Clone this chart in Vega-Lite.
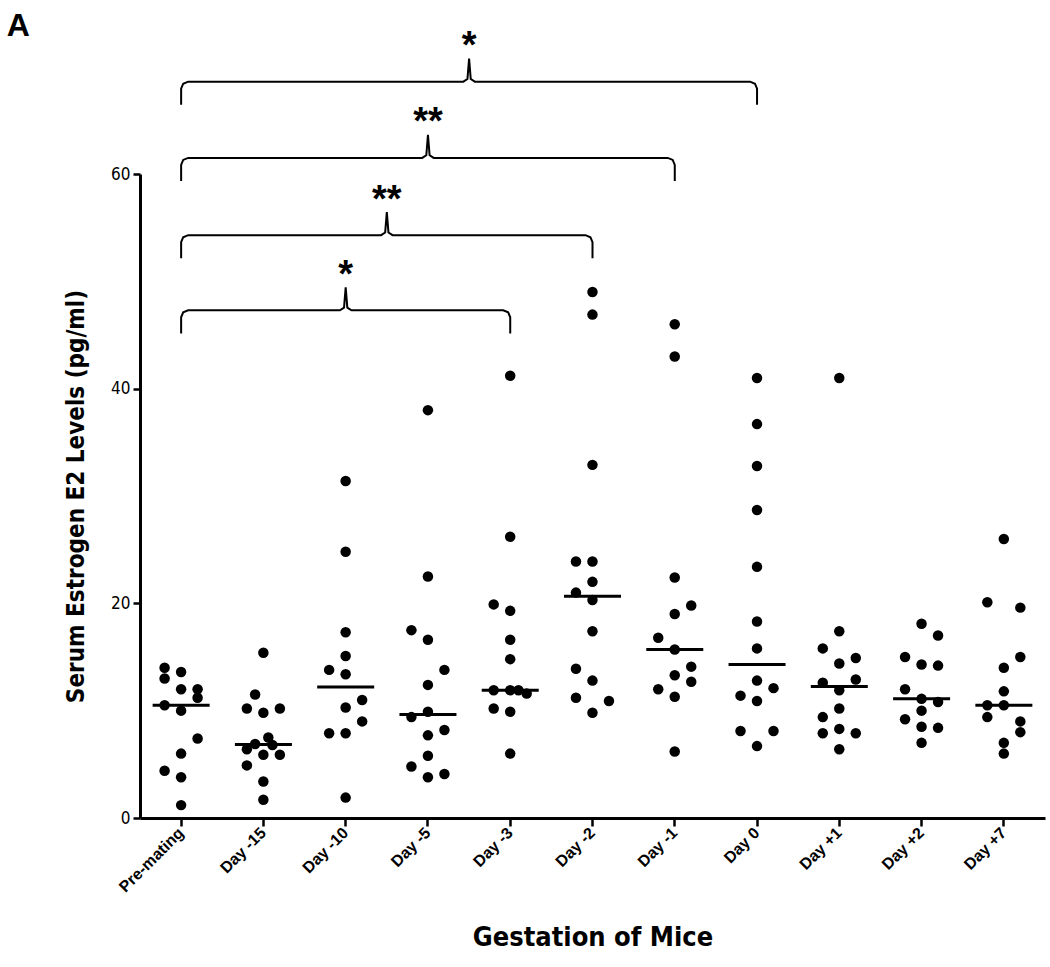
{
  "$schema": "https://vega.github.io/schema/vega-lite/v6.json",
  "width": 905,
  "height": 644,
  "autosize": {"type": "none"},
  "padding": {"left": 140, "top": 174, "right": 5, "bottom": 149},
  "background": "white",
  "config": {
    "view": {"stroke": null},
    "axis": {"domainColor": "black", "tickColor": "black", "labelColor": "black", "titleColor": "black", "grid": false}
  },
  "datasets": {
    "obs": [
      {"g": "Pre-mating", "v": 14.0, "s": -2}, {"g": "Pre-mating", "v": 13.6, "s": 0}, {"g": "Pre-mating", "v": 13.0, "s": -2},
      {"g": "Pre-mating", "v": 12.0, "s": 0}, {"g": "Pre-mating", "v": 12.0, "s": 2}, {"g": "Pre-mating", "v": 11.2, "s": 2},
      {"g": "Pre-mating", "v": 10.5, "s": -2}, {"g": "Pre-mating", "v": 10.0, "s": 0}, {"g": "Pre-mating", "v": 7.4, "s": 2},
      {"g": "Pre-mating", "v": 6.0, "s": 0}, {"g": "Pre-mating", "v": 4.4, "s": -2}, {"g": "Pre-mating", "v": 3.8, "s": 0},
      {"g": "Pre-mating", "v": 1.2, "s": 0},
      {"g": "Day -15", "v": 15.4, "s": 0}, {"g": "Day -15", "v": 11.5, "s": -1}, {"g": "Day -15", "v": 10.2, "s": -2},
      {"g": "Day -15", "v": 9.8, "s": 0}, {"g": "Day -15", "v": 10.2, "s": 2}, {"g": "Day -15", "v": 7.5, "s": 0.6},
      {"g": "Day -15", "v": 6.9, "s": -1}, {"g": "Day -15", "v": 6.8, "s": 1.1}, {"g": "Day -15", "v": 6.4, "s": -2},
      {"g": "Day -15", "v": 5.9, "s": 0}, {"g": "Day -15", "v": 5.9, "s": 2}, {"g": "Day -15", "v": 4.9, "s": -2},
      {"g": "Day -15", "v": 3.4, "s": 0}, {"g": "Day -15", "v": 1.7, "s": 0},
      {"g": "Day -10", "v": 31.4, "s": 0}, {"g": "Day -10", "v": 24.8, "s": 0}, {"g": "Day -10", "v": 17.3, "s": 0},
      {"g": "Day -10", "v": 15.1, "s": 0}, {"g": "Day -10", "v": 13.8, "s": -2}, {"g": "Day -10", "v": 13.4, "s": 0},
      {"g": "Day -10", "v": 11.0, "s": 2}, {"g": "Day -10", "v": 10.3, "s": 0}, {"g": "Day -10", "v": 9.0, "s": 2},
      {"g": "Day -10", "v": 7.9, "s": -2}, {"g": "Day -10", "v": 7.9, "s": 0}, {"g": "Day -10", "v": 1.9, "s": 0},
      {"g": "Day -5", "v": 38.0, "s": 0}, {"g": "Day -5", "v": 22.5, "s": 0}, {"g": "Day -5", "v": 17.5, "s": -2},
      {"g": "Day -5", "v": 16.6, "s": 0}, {"g": "Day -5", "v": 13.8, "s": 2}, {"g": "Day -5", "v": 12.4, "s": 0},
      {"g": "Day -5", "v": 9.9, "s": 0}, {"g": "Day -5", "v": 9.4, "s": -2}, {"g": "Day -5", "v": 8.2, "s": 2},
      {"g": "Day -5", "v": 7.7, "s": 0}, {"g": "Day -5", "v": 5.8, "s": 0}, {"g": "Day -5", "v": 4.8, "s": -2},
      {"g": "Day -5", "v": 3.8, "s": 0}, {"g": "Day -5", "v": 4.1, "s": 2},
      {"g": "Day -3", "v": 41.2, "s": 0}, {"g": "Day -3", "v": 26.2, "s": 0}, {"g": "Day -3", "v": 19.9, "s": -2},
      {"g": "Day -3", "v": 19.3, "s": 0}, {"g": "Day -3", "v": 16.6, "s": 0}, {"g": "Day -3", "v": 14.8, "s": 0},
      {"g": "Day -3", "v": 11.9, "s": -2}, {"g": "Day -3", "v": 11.9, "s": 0}, {"g": "Day -3", "v": 11.9, "s": 1},
      {"g": "Day -3", "v": 11.6, "s": 2}, {"g": "Day -3", "v": 10.2, "s": -2}, {"g": "Day -3", "v": 9.9, "s": 0},
      {"g": "Day -3", "v": 6.0, "s": 0},
      {"g": "Day -2", "v": 49.0, "s": 0}, {"g": "Day -2", "v": 46.9, "s": 0}, {"g": "Day -2", "v": 32.9, "s": 0},
      {"g": "Day -2", "v": 23.9, "s": -2}, {"g": "Day -2", "v": 23.9, "s": 0}, {"g": "Day -2", "v": 22.0, "s": 0},
      {"g": "Day -2", "v": 21.0, "s": -2}, {"g": "Day -2", "v": 20.3, "s": 0}, {"g": "Day -2", "v": 17.4, "s": 0},
      {"g": "Day -2", "v": 13.9, "s": -2}, {"g": "Day -2", "v": 12.8, "s": 0}, {"g": "Day -2", "v": 11.2, "s": -2},
      {"g": "Day -2", "v": 10.9, "s": 2}, {"g": "Day -2", "v": 9.8, "s": 0},
      {"g": "Day -1", "v": 46.0, "s": 0}, {"g": "Day -1", "v": 43.0, "s": 0}, {"g": "Day -1", "v": 22.4, "s": 0},
      {"g": "Day -1", "v": 19.8, "s": 2}, {"g": "Day -1", "v": 19.0, "s": 0}, {"g": "Day -1", "v": 16.8, "s": -2},
      {"g": "Day -1", "v": 15.7, "s": 0}, {"g": "Day -1", "v": 14.1, "s": 2}, {"g": "Day -1", "v": 13.3, "s": 0},
      {"g": "Day -1", "v": 12.7, "s": 2}, {"g": "Day -1", "v": 12.0, "s": -2}, {"g": "Day -1", "v": 11.3, "s": 0},
      {"g": "Day -1", "v": 6.2, "s": 0},
      {"g": "Day 0", "v": 41.0, "s": 0}, {"g": "Day 0", "v": 36.7, "s": 0}, {"g": "Day 0", "v": 32.8, "s": 0},
      {"g": "Day 0", "v": 28.7, "s": 0}, {"g": "Day 0", "v": 23.4, "s": 0}, {"g": "Day 0", "v": 18.3, "s": 0},
      {"g": "Day 0", "v": 15.8, "s": 0}, {"g": "Day 0", "v": 12.8, "s": 0}, {"g": "Day 0", "v": 12.1, "s": 2},
      {"g": "Day 0", "v": 11.4, "s": -2}, {"g": "Day 0", "v": 10.9, "s": 0}, {"g": "Day 0", "v": 8.1, "s": -2},
      {"g": "Day 0", "v": 8.1, "s": 2}, {"g": "Day 0", "v": 6.7, "s": 0},
      {"g": "Day +1", "v": 41.0, "s": 0}, {"g": "Day +1", "v": 17.4, "s": 0}, {"g": "Day +1", "v": 15.8, "s": -2},
      {"g": "Day +1", "v": 14.9, "s": 2}, {"g": "Day +1", "v": 14.4, "s": 0}, {"g": "Day +1", "v": 12.9, "s": 2},
      {"g": "Day +1", "v": 12.6, "s": -2}, {"g": "Day +1", "v": 11.9, "s": 0}, {"g": "Day +1", "v": 10.2, "s": 0},
      {"g": "Day +1", "v": 9.4, "s": -2}, {"g": "Day +1", "v": 8.3, "s": 0}, {"g": "Day +1", "v": 7.9, "s": -2},
      {"g": "Day +1", "v": 7.9, "s": 2}, {"g": "Day +1", "v": 6.4, "s": 0},
      {"g": "Day +2", "v": 18.1, "s": 0}, {"g": "Day +2", "v": 17.0, "s": 2}, {"g": "Day +2", "v": 15.0, "s": -2},
      {"g": "Day +2", "v": 14.3, "s": 0}, {"g": "Day +2", "v": 14.2, "s": 2}, {"g": "Day +2", "v": 12.0, "s": -2},
      {"g": "Day +2", "v": 11.1, "s": 0}, {"g": "Day +2", "v": 10.8, "s": 2}, {"g": "Day +2", "v": 10.0, "s": 0},
      {"g": "Day +2", "v": 9.2, "s": -2}, {"g": "Day +2", "v": 8.5, "s": 0}, {"g": "Day +2", "v": 8.4, "s": 2},
      {"g": "Day +2", "v": 7.0, "s": 0},
      {"g": "Day +7", "v": 26.0, "s": 0}, {"g": "Day +7", "v": 20.1, "s": -2}, {"g": "Day +7", "v": 19.6, "s": 2},
      {"g": "Day +7", "v": 15.0, "s": 2}, {"g": "Day +7", "v": 14.0, "s": 0}, {"g": "Day +7", "v": 11.8, "s": 0},
      {"g": "Day +7", "v": 10.5, "s": 0}, {"g": "Day +7", "v": 10.5, "s": -2}, {"g": "Day +7", "v": 9.4, "s": -2},
      {"g": "Day +7", "v": 9.0, "s": 2}, {"g": "Day +7", "v": 8.0, "s": 2}, {"g": "Day +7", "v": 7.0, "s": 0},
      {"g": "Day +7", "v": 6.0, "s": 0}
    ],
    "brackets": [
      {"b": 1, "i": 1, "x": 0, "y": 45.15}, {"b": 1, "i": 2, "x": 0, "y": 46.65}, {"b": 1, "i": 3, "x": 0.025, "y": 47.11},
      {"b": 1, "i": 4, "x": 0.085, "y": 47.3}, {"b": 1, "i": 5, "x": 1.93, "y": 47.3}, {"b": 1, "i": 6, "x": 1.98, "y": 47.55},
      {"b": 1, "i": 7, "x": 2, "y": 49.45}, {"b": 1, "i": 8, "x": 2.02, "y": 47.55}, {"b": 1, "i": 9, "x": 2.07, "y": 47.3},
      {"b": 1, "i": 10, "x": 3.915, "y": 47.3}, {"b": 1, "i": 11, "x": 3.975, "y": 47.11}, {"b": 1, "i": 12, "x": 4, "y": 46.65},
      {"b": 1, "i": 13, "x": 4, "y": 45.15},
      {"b": 2, "i": 1, "x": 0, "y": 52.15}, {"b": 2, "i": 2, "x": 0, "y": 53.65}, {"b": 2, "i": 3, "x": 0.025, "y": 54.11},
      {"b": 2, "i": 4, "x": 0.085, "y": 54.3}, {"b": 2, "i": 5, "x": 2.43, "y": 54.3}, {"b": 2, "i": 6, "x": 2.48, "y": 54.55},
      {"b": 2, "i": 7, "x": 2.5, "y": 56.45}, {"b": 2, "i": 8, "x": 2.52, "y": 54.55}, {"b": 2, "i": 9, "x": 2.57, "y": 54.3},
      {"b": 2, "i": 10, "x": 4.915, "y": 54.3}, {"b": 2, "i": 11, "x": 4.975, "y": 54.11}, {"b": 2, "i": 12, "x": 5, "y": 53.65},
      {"b": 2, "i": 13, "x": 5, "y": 52.15},
      {"b": 3, "i": 1, "x": 0, "y": 59.35}, {"b": 3, "i": 2, "x": 0, "y": 60.85}, {"b": 3, "i": 3, "x": 0.025, "y": 61.31},
      {"b": 3, "i": 4, "x": 0.085, "y": 61.5}, {"b": 3, "i": 5, "x": 2.93, "y": 61.5}, {"b": 3, "i": 6, "x": 2.98, "y": 61.75},
      {"b": 3, "i": 7, "x": 3, "y": 63.65}, {"b": 3, "i": 8, "x": 3.02, "y": 61.75}, {"b": 3, "i": 9, "x": 3.07, "y": 61.5},
      {"b": 3, "i": 10, "x": 5.915, "y": 61.5}, {"b": 3, "i": 11, "x": 5.975, "y": 61.31}, {"b": 3, "i": 12, "x": 6, "y": 60.85},
      {"b": 3, "i": 13, "x": 6, "y": 59.35},
      {"b": 4, "i": 1, "x": 0, "y": 66.45}, {"b": 4, "i": 2, "x": 0, "y": 67.95}, {"b": 4, "i": 3, "x": 0.025, "y": 68.41},
      {"b": 4, "i": 4, "x": 0.085, "y": 68.6}, {"b": 4, "i": 5, "x": 3.43, "y": 68.6}, {"b": 4, "i": 6, "x": 3.48, "y": 68.85},
      {"b": 4, "i": 7, "x": 3.5, "y": 70.75}, {"b": 4, "i": 8, "x": 3.52, "y": 68.85}, {"b": 4, "i": 9, "x": 3.57, "y": 68.6},
      {"b": 4, "i": 10, "x": 6.915, "y": 68.6}, {"b": 4, "i": 11, "x": 6.975, "y": 68.41}, {"b": 4, "i": 12, "x": 7, "y": 67.95},
      {"b": 4, "i": 13, "x": 7, "y": 66.45}
    ],
    "stars": [
      {"x": 2, "y": 49.5, "t": "*"},
      {"x": 2.5, "y": 56.5, "t": "**"},
      {"x": 3, "y": 63.7, "t": "**"},
      {"x": 3.5, "y": 70.8, "t": "*"}
    ],
    "panel": [
      {"x": -1.98, "y": 72.9, "t": "A"}
    ]
  },
  "resolve": {"scale": {"x": "independent"}, "axis": {"x": "independent"}},
  "layer": [
    {
      "data": {"name": "obs"},
      "mark": {"type": "circle", "size": 110, "opacity": 1, "color": "black"},
      "encoding": {
        "x": {"field": "g", "type": "nominal",
          "scale": {"domain": ["Pre-mating", "Day -15", "Day -10", "Day -5", "Day -3", "Day -2", "Day -1", "Day 0", "Day +1", "Day +2", "Day +7"], "paddingInner": 0, "paddingOuter": 0},
          "axis": {"title": "Gestation of Mice", "titleFont": "Liberation Sans Narrow, DejaVu Sans Condensed, sans-serif", "titleFontSize": 27, "titleFontWeight": "bold", "titlePadding": 30,
            "labelFont": "Liberation Sans", "labelFontSize": 16, "labelFontWeight": "bold", "labelAngle": -45, "labelAlign": "right", "labelBaseline": "middle", "labelPadding": 4,
            "domainWidth": 3, "tickWidth": 2.5, "tickSize": 8}},
        "xOffset": {"field": "s", "type": "quantitative", "scale": {"domain": [-2, 2], "range": [24.6, 57.6]}},
        "y": {"field": "v", "type": "quantitative",
          "scale": {"domain": [0, 60], "nice": false},
          "axis": {"title": "Serum Estrogen E2 Levels (pg/ml)", "titleFont": "Liberation Sans Narrow, DejaVu Sans Condensed, sans-serif", "titleFontSize": 24, "titleFontWeight": "bold", "titlePadding": 22,
            "values": [0, 20, 40, 60], "labelFont": "Liberation Sans Narrow, DejaVu Sans Condensed, sans-serif", "labelFontSize": 17, "labelPadding": 3,
            "domainWidth": 3, "tickWidth": 2.5, "tickSize": 7}}
      }
    },
    {
      "data": {"name": "obs"},
      "mark": {"type": "tick", "color": "black", "size": 57, "thickness": 3, "orient": "horizontal"},
      "encoding": {
        "x": {"field": "g", "type": "nominal",
          "scale": {"domain": ["Pre-mating", "Day -15", "Day -10", "Day -5", "Day -3", "Day -2", "Day -1", "Day 0", "Day +1", "Day +2", "Day +7"], "paddingInner": 0, "paddingOuter": 0},
          "axis": null},
        "y": {"aggregate": "median", "field": "v", "type": "quantitative"}
      }
    },
    {
      "data": {"name": "brackets"},
      "mark": {"type": "line", "color": "black", "strokeWidth": 2, "interpolate": "linear"},
      "encoding": {
        "x": {"field": "x", "type": "quantitative", "scale": {"domain": [-0.5, 10.5], "nice": false, "zero": false}, "axis": null},
        "y": {"field": "y", "type": "quantitative"},
        "detail": {"field": "b", "type": "nominal"},
        "order": {"field": "i", "type": "quantitative"}
      }
    },
    {
      "data": {"name": "stars"},
      "mark": {"type": "text", "color": "black", "font": "Liberation Sans", "fontSize": 38, "fontWeight": "bold", "baseline": "alphabetic", "align": "center"},
      "encoding": {
        "x": {"field": "x", "type": "quantitative", "scale": {"domain": [-0.5, 10.5], "nice": false, "zero": false}, "axis": null},
        "y": {"field": "y", "type": "quantitative"},
        "text": {"field": "t", "type": "nominal"}
      }
    },
    {
      "data": {"name": "panel"},
      "mark": {"type": "text", "color": "black", "font": "Liberation Sans", "fontSize": 32, "fontWeight": "bold", "baseline": "alphabetic", "align": "center"},
      "encoding": {
        "x": {"field": "x", "type": "quantitative", "scale": {"domain": [-0.5, 10.5], "nice": false, "zero": false}, "axis": null},
        "y": {"field": "y", "type": "quantitative"},
        "text": {"field": "t", "type": "nominal"}
      }
    }
  ]
}
